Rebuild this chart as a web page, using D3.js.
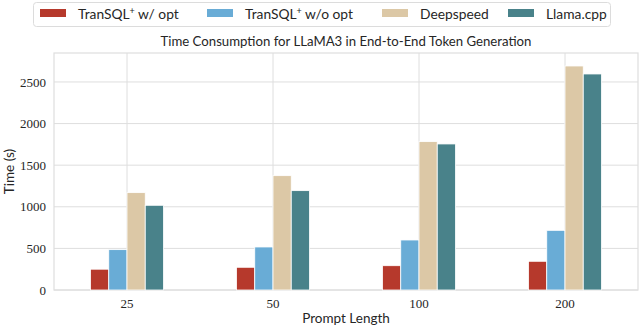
<!DOCTYPE html>
<html>
<head>
<meta charset="utf-8">
<script src="https://cdn.jsdelivr.net/npm/d3@7"></script>
<style>
  body { margin: 0; background: #fff; }
  svg text.num { font-family: "Liberation Serif", serif !important; }
</style>
</head>
<body>
<div id="chart"></div>
<script>
const promptLengths = ['25', '50', '100', '200'];
const seriesNames = ['TranSQL+ w/ opt', 'TranSQL+ w/o opt', 'Deepspeed', 'Llama.cpp'];
const transqlOpt = [250, 273, 292, 345];
const transqlNoOpt = [485, 517, 601, 717];
const deepspeed = [1170, 1374, 1783, 2692];
const llamaCpp = [1018, 1194, 1755, 2596];
const yTicks = [0, 500, 1000, 1500, 2000, 2500];
const colors = ['#b6392c', '#69acd6', '#dcc8a6', '#49828a'];

const allSeries = [transqlOpt, transqlNoOpt, deepspeed, llamaCpp];

const SANS = 'Lato, "DejaVu Sans", sans-serif';
const TEXT = '#262626';

const W = 640, H = 329;
const margin = {top: 53, right: 2, bottom: 39, left: 54};
const width = W - margin.left - margin.right;
const height = H - margin.top - margin.bottom;

const svg = d3.select('#chart').append('svg')
  .attr('width', W).attr('height', H);

const g = svg.append('g')
  .attr('transform', `translate(${margin.left}, ${margin.top})`);

const x = d3.scaleBand().domain(promptLengths).range([0, width]);
const xInner = d3.scaleBand().domain(d3.range(seriesNames.length))
  .range([0, x.bandwidth() * 0.5]);
const y = d3.scaleLinear().domain([0, 2848]).range([height, 0]);

// grid
g.selectAll('.hgrid').data(yTicks).enter().append('line')
  .attr('x1', 0).attr('x2', width)
  .attr('y1', d => y(d)).attr('y2', d => y(d))
  .attr('stroke', '#dedede').attr('stroke-width', 1);
g.selectAll('.vgrid').data(promptLengths).enter().append('line')
  .attr('x1', d => x(d) + x.bandwidth() / 2).attr('x2', d => x(d) + x.bandwidth() / 2)
  .attr('y1', 0).attr('y2', height)
  .attr('stroke', '#dedede').attr('stroke-width', 1);

// spines
g.append('rect')
  .attr('x', 0).attr('y', 0).attr('width', width).attr('height', height)
  .attr('fill', 'none').attr('stroke', '#dedede').attr('stroke-width', 1.2);

// bars
allSeries.forEach((vals, si) => {
  g.selectAll('.bar' + si).data(vals).enter().append('rect')
    .attr('x', (d, i) => x(promptLengths[i]) + x.bandwidth() / 4 + xInner(si))
    .attr('width', xInner.bandwidth())
    .attr('y', d => y(d))
    .attr('height', d => height - y(d))
    .attr('fill', colors[si])
    .attr('stroke', '#fff').attr('stroke-width', 0.8);
});

// axes
const yAxis = g.append('g')
  .attr('font-family', null)
  .call(d3.axisLeft(y).tickValues(yTicks).tickFormat(d3.format('d')).tickSize(0).tickPadding(8));
yAxis.attr('font-family', 'Liberation Serif').attr('font-size', 13);
yAxis.select('.domain').remove();
yAxis.selectAll('text').attr('class', 'num').attr('fill', TEXT);

const xAxis = g.append('g')
  .attr('transform', `translate(0, ${height})`)
  .call(d3.axisBottom(x).tickSize(0).tickPadding(9));
xAxis.attr('font-family', 'Liberation Serif').attr('font-size', 13);
xAxis.select('.domain').remove();
xAxis.selectAll('text').attr('class', 'num').attr('fill', TEXT);

// labels
function label(txt, size) {
  return svg.append('text')
    .style('font-family', SANS).style('font-size', size).style('fill', TEXT)
    .attr('text-anchor', 'middle').text(txt);
}
label('Time Consumption for LLaMA3 in End-to-End Token Generation', '13.2px')
  .attr('x', margin.left + width / 2).attr('y', 46);
label('Prompt Length', '13.5px')
  .attr('x', margin.left + width / 2).attr('y', 323);
label('Time (s)', '13.5px')
  .attr('transform', `translate(14, ${margin.top + height / 2}) rotate(-90)`);

// legend
const legend = svg.append('g');
legend.append('rect')
  .attr('x', 33.5).attr('y', 2.5).attr('width', 577).attr('height', 24)
  .attr('rx', 3).attr('fill', '#fff').attr('stroke', '#dcdcdc');
const legendX = [40, 207, 382, 508];
seriesNames.forEach((name, i) => {
  const lg = legend.append('g').attr('transform', `translate(${legendX[i]}, 0)`);
  lg.append('rect').attr('x', 0).attr('y', 9).attr('width', 26).attr('height', 8)
    .attr('fill', colors[i]);
  const t = lg.append('text')
    .style('font-family', SANS).style('font-size', '13.8px').style('fill', TEXT)
    .attr('x', 38).attr('y', 19);
  if (name.startsWith('TranSQL+')) {
    t.append('tspan').text('TranSQL');
    t.append('tspan').attr('dy', -5).style('font-size', '9px').text('+');
    t.append('tspan').attr('dy', 5).text(name.slice(8));
  } else {
    t.text(name);
  }
});
</script>
</body>
</html>
